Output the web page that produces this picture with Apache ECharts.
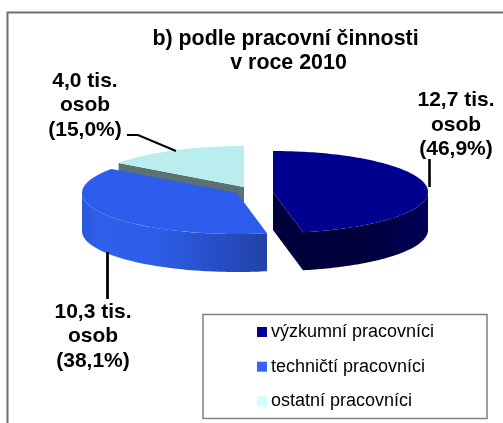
<!DOCTYPE html>
<html>
<head>
<meta charset="utf-8">
<style>html,body{margin:0;padding:0;background:#fff}#c{width:503px;height:423px}</style>
<script src="https://cdn.jsdelivr.net/npm/echarts@6/dist/echarts.min.js"></script>
</head>
<body>
<div id="c"></div>
<script>
const titleLines = ['b) podle pracovní činnosti', 'v roce 2010'];
const categories = ['výzkumní pracovníci', 'techničtí pracovníci', 'ostatní pracovníci'];
const persons = ['12,7', '10,3', '4,0'];
const shares = [46.9, 38.1, 15.0];
const legendColors = ['#000099', '#3366FF', '#CCFFFF'];
const topColors = ['#00008F', '#2B5CEB', '#BAEDED'];
const cutColors = ['#00003C', '#1D3FA6', '#5C7272'];
const centers = [[273, 192], [237, 193], [244, 187]];
const labelPos = [[456, 125], [93, 336.5], [85, 105.5]];
const FONT = '"Liberation Sans", Arial, sans-serif';
const RX = 155, RY = 41, DEPTH = 38;
const total = shares.reduce((a, b) => a + b, 0);

const chart = echarts.init(document.getElementById('c'), null, {renderer: 'canvas'});

function point(c, t, dy) {
  return [c[0] + RX * Math.sin(t), c[1] - RY * Math.cos(t) + (dy || 0)];
}
function arc(c, a, b, dy) {
  const pts = [], n = Math.max(2, Math.ceil(Math.abs(b - a) / 0.02));
  for (let i = 0; i <= n; i++) pts.push(point(c, a + (b - a) * i / n, dy));
  return pts;
}
function wallFill(i) {
  if (i === 0) {
    return new echarts.graphic.LinearGradient(273, 0, 428, 0, [
      {offset: 0, color: '#000038'}, {offset: 0.6, color: '#00003E'}, {offset: 1, color: '#000058'}
    ], true);
  }
  return new echarts.graphic.LinearGradient(82, 0, 268, 0, [
    {offset: 0, color: '#2A58DC'}, {offset: 0.1, color: '#2F60EC'}, {offset: 0.42, color: '#2D5CE6'},
    {offset: 1, color: '#2142A8'}
  ], true);
}
function renderSlice(i) {
  return function (params, api) {
    let before = 0;
    for (let k = 0; k < i; k++) before += shares[k];
    const a = before / total * 2 * Math.PI;
    const b = a + api.value(0) / total * 2 * Math.PI;
    const c = centers[i];
    const children = [];
    // outer wall: only the part of the rim that faces the viewer
    const wa = Math.max(a, Math.PI / 2), wb = Math.min(b, 3 * Math.PI / 2);
    if (wb > wa) {
      children.push({type: 'polygon', shape: {points: arc(c, wa, wb, 0).concat(arc(c, wb, wa, DEPTH))},
        style: {fill: wallFill(i)}});
    }
    // cut face: the end of the slice that faces the viewer
    const t = i === 0 ? b : (i === 2 ? a : null);
    if (t !== null) {
      const e = point(c, t);
      children.push({type: 'polygon', shape: {points: [c, e, [e[0], e[1] + DEPTH], [c[0], c[1] + DEPTH]]},
        style: {fill: cutColors[i]}});
    }
    // top surface
    children.push({type: 'polygon', shape: {points: [c].concat(arc(c, a, b, 0))},
      style: {fill: topColors[i]}});
    return {type: 'group', children};
  };
}

const drawOrder = [2, 1, 0];
const titleStyle = {fontFamily: FONT, fontSize: 21.4, fontWeight: 'bold', color: '#000', lineHeight: 24};
chart.setOption({
  animation: false,
  backgroundColor: '#fff',
  title: [
    {text: titleLines[0], left: 285.5, top: 27, textAlign: 'center', padding: 0, textStyle: titleStyle},
    {text: titleLines[1], left: 288.5, top: 51, textAlign: 'center', padding: 0, textStyle: titleStyle}
  ],
  legend: {
    data: categories, orient: 'vertical', left: 257, top: 322, padding: 0,
    itemWidth: 10, itemHeight: 10, itemGap: 14.7, icon: 'rect', selectedMode: false,
    textStyle: {fontFamily: FONT, fontSize: 18, color: '#000', padding: [0, 0, 0, -1], lineHeight: 20}
  },
  graphic: [
    {type: 'polyline', z: 0, shape: {points: [[7.5, 423], [7.5, 12.5], [503, 12.5]]},
      style: {stroke: '#6e6e6e', lineWidth: 2, fill: null}},
    {type: 'rect', z: 0, shape: {x: 203, y: 314.5, width: 284, height: 104},
      style: {fill: '#fff', stroke: '#808080', lineWidth: 1.5}},
    {type: 'polyline', z: 10, shape: {points: [[429.5, 159], [429.5, 187]]},
      style: {stroke: '#000', lineWidth: 2.6, fill: null}},
    {type: 'polyline', z: 10, shape: {points: [[107.5, 252], [107.5, 299]]},
      style: {stroke: '#000', lineWidth: 2.8, fill: null}},
    {type: 'polyline', z: 10, shape: {points: [[127, 135], [138, 135], [176, 151]]},
      style: {stroke: '#000', lineWidth: 2, fill: null}}
  ].concat(persons.map((p, i) => ({
    type: 'text', z: 10, x: labelPos[i][0], y: labelPos[i][1],
    style: {text: p + ' tis.\nosob\n(' + shares[i].toFixed(1).replace('.', ',') + '%)',
      font: 'bold 21px ' + FONT, fill: '#000', align: 'center', verticalAlign: 'middle', lineHeight: 24.6}
  }))),
  series: drawOrder.map(i => ({
    type: 'custom', name: categories[i], coordinateSystem: 'none', z: 5,
    itemStyle: {color: legendColors[i]}, silent: true,
    data: [[shares[i]]], renderItem: renderSlice(i)
  }))
});
</script>
</body>
</html>
